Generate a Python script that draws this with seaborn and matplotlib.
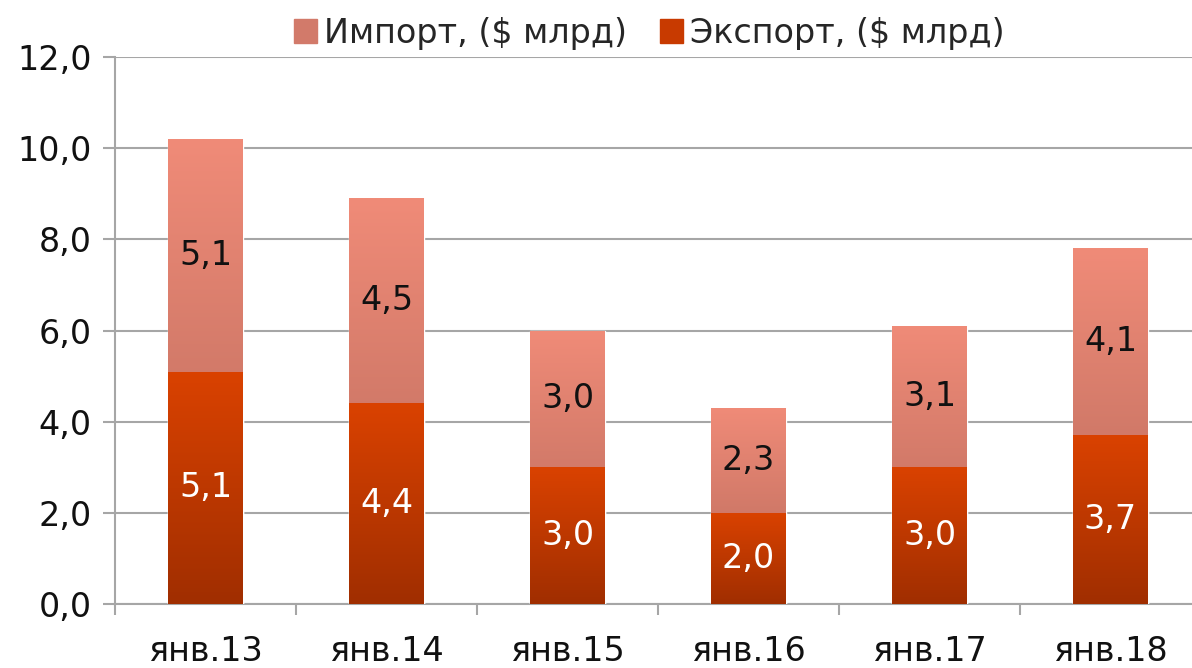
import matplotlib
matplotlib.use("Agg")
import matplotlib.pyplot as plt
import matplotlib.patches as mpatches
from matplotlib.colors import to_rgb
from matplotlib.ticker import FuncFormatter
import seaborn as sns
import numpy as np

# Data
periods = ["янв.13", "янв.14", "янв.15", "янв.16", "янв.17", "янв.18"]
export_vals = [5.1, 4.4, 3.0, 2.0, 3.0, 3.7]
import_vals = [5.1, 4.5, 3.0, 2.3, 3.1, 4.1]
totals = [e + i for e, i in zip(export_vals, import_vals)]

# gradient colours (bottom -> top)
exp_grad = ("#a02e00", "#da4200")
imp_grad = ("#b5695a", "#f08b78")

sns.set_style("white")
plt.rcParams["font.family"] = ["DejaVu Sans"]

fig = plt.figure(figsize=(11.92, 6.68), dpi=100)
ax = fig.add_axes([115 / 1192, 64 / 668, 1086 / 1192, 547 / 668])

# stacked bars: total first (import on top), export drawn over it
sns.barplot(x=periods, y=totals, color=imp_grad[1], width=0.41,
            saturation=1, errorbar=None, ax=ax, zorder=3)
n_imp = len(ax.patches)
sns.barplot(x=periods, y=export_vals, color=exp_grad[1], width=0.41,
            saturation=1, errorbar=None, ax=ax, zorder=3)

ax.set_xlim(-0.5, len(periods) - 0.5)
ax.set_ylim(0, 12)


def gradient_fill(patch, c0, c1):
    x0, y0 = patch.get_x(), patch.get_y()
    w, h = patch.get_width(), patch.get_height()
    t = np.linspace(0, 1, 256)[:, None]
    a, b = np.array(to_rgb(c0)), np.array(to_rgb(c1))
    img = (a * (1 - t) + b * t)[:, None, :]
    im = ax.imshow(img, extent=[x0, x0 + w, y0, y0 + h], origin="lower",
                   aspect="auto", zorder=3.5, interpolation="bilinear")
    im.set_clip_path(patch)


for k, p in enumerate(list(ax.patches)):
    if k < n_imp:
        gradient_fill(p, *imp_grad)
    else:
        gradient_fill(p, *exp_grad)

ax.set_xlim(-0.5, len(periods) - 0.5)
ax.set_ylim(0, 12)

# value labels
fmt = lambda v: f"{v:.1f}".replace(".", ",")
for i, (e, im_v) in enumerate(zip(export_vals, import_vals)):
    ax.text(i, e / 2, fmt(e), ha="center", va="center", color="white",
            fontsize=24, zorder=5)
    ax.text(i, e + im_v / 2, fmt(im_v), ha="center", va="center",
            color="#111111", fontsize=24, zorder=5)

# axes styling
ax.set_yticks(np.arange(0, 12.1, 2))
ax.yaxis.set_major_formatter(FuncFormatter(lambda v, _: fmt(v)))
ax.grid(axis="y", color="#a6a6a6", linewidth=1.5, zorder=0)
ax.set_axisbelow(True)
for s in ["top", "right"]:
    ax.spines[s].set_visible(False)
for s in ["left", "bottom"]:
    ax.spines[s].set_color("#a6a6a6")
    ax.spines[s].set_linewidth(1.5)

ax.set_xticks(np.arange(-0.5, len(periods), 1), minor=True)
ax.tick_params(axis="x", which="major", length=0, pad=22, labelsize=24,
               labelcolor="#111111")
ax.tick_params(axis="x", which="minor", length=8, width=1.5,
               color="#a6a6a6", direction="out", bottom=True)
ax.tick_params(axis="y", which="major", length=9, width=1.5,
               color="#a6a6a6", direction="out", left=True, pad=8,
               labelsize=24, labelcolor="#111111")
ax.set_xlabel("")
ax.set_ylabel("")

handles = [mpatches.Patch(color="#d27a6a", label="Импорт, ($ млрд)"),
           mpatches.Patch(color="#c83a00", label="Экспорт, ($ млрд)")]
fig.legend(handles=handles, loc="center", ncol=2, frameon=False,
           bbox_to_anchor=(649 / 1192, 1 - 33 / 668), fontsize=24,
           handlelength=0.7, handleheight=0.7, handletextpad=0.2,
           columnspacing=1.0)

fig.savefig("out.png", dpi=100)
